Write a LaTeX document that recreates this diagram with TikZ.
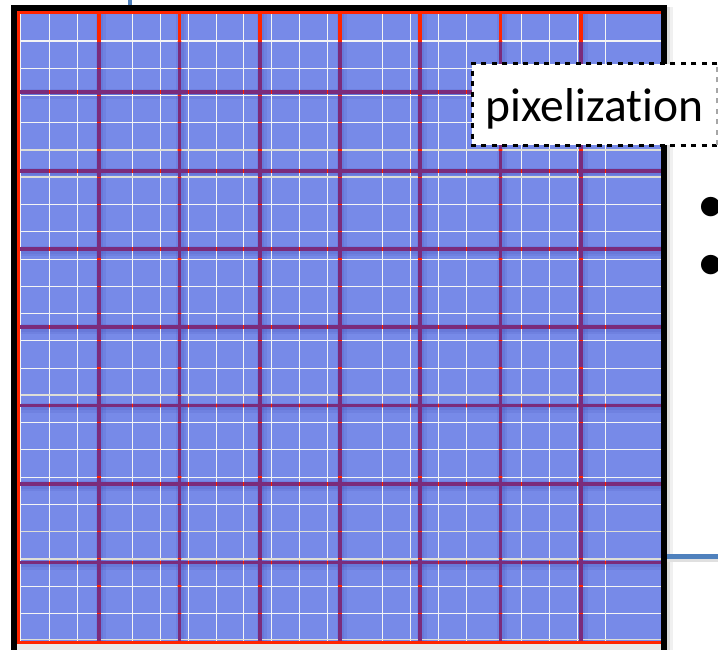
\documentclass[tikz,border=0pt]{standalone}
\usepackage{fontspec}
\setmainfont{Carlito}[Ligatures=NoCommon]
\definecolor{tileblue}{RGB}{119,138,232}
\definecolor{gpurple}{RGB}{123,43,123}
\definecolor{gred}{RGB}{255,36,0}
\definecolor{connblue}{RGB}{79,129,189}
\definecolor{minorwhite}{RGB}{244,244,244}
\definecolor{minorgray}{RGB}{222,222,214}
\definecolor{shadowblue}{RGB}{60,70,170}
\begin{document}
\begin{tikzpicture}[x=1pt,y=-1pt,
  minor/.style={minorwhite, line width=1.1pt},
  minorg/.style={minorgray, line width=1.8pt},
  major/.style={gpurple, line width=3.6pt},
  majshadow/.style={shadowblue, line width=10pt, opacity=0.12},
  majshadowb/.style={shadowblue, line width=6pt, opacity=0.12},
  connector/.style={connblue, line width=4.5pt},
  boxdash/.style={line width=3pt, dash pattern=on 5pt off 5.5pt},
  bulletmark/.style={font=\fontsize{55}{55}\selectfont, inner sep=0pt}
]
\clip (0,0) rectangle (718,650);
\fill[white] (0,0) rectangle (718,650);
% frame shadow
\fill[black!6] (13,7) rectangle (673,670);
\fill[black!14] (13,7) rectangle (670,670);
% frame interior
\fill[black!9] (14,8) rectangle (664,662);
% tile area
\fill[tileblue] (20,14) rectangle (661,641);
% shadows of the major lines
\begin{scope}
\clip (20,14) rectangle (661,641);
\foreach \x in {99,179.5,260,340,420,500.5,581} {
  \draw[majshadow] (\x+1.5,14) -- (\x+1.5,641);
  \draw[majshadowb] (\x+1,14) -- (\x+1,641);
}
\foreach \y in {92,171,249,327,405.5,484,562.5} {
  \draw[majshadow] (20,\y+2) -- (661,\y+2);
  \draw[majshadowb] (20,\y+1.5) -- (661,\y+1.5);
}
\end{scope}
% minor grid
\foreach \k in {1,2,4,5,6,7,8,9,10,11,13,14,15,16,18,19,20,21}
  \draw[minor] ({21.5+27.8*\k},14) -- ({21.5+27.8*\k},641);
\foreach \k in {1,2,3,4,7,8,9,10,11,12,13,15,16,17,18,21,22}
  \draw[minor] (20,{13.8+27.25*\k}) -- (661,{13.8+27.25*\k});
\foreach \k in {5,6,14,19,20}
  \draw[minorg] (20,{13.8+27.25*\k}) -- (661,{13.8+27.25*\k});
\draw[minorg] (20,639.5) -- (661,639.5);
\draw[minorwhite, line width=1pt] (20.8,14) -- (20.8,641);
% major grid
\foreach \x in {99,179.5,260,340,420,500.5,581}
  \draw[major] (\x,41) -- (\x,641);
\foreach \y in {92,171,249,327,405.5,484,562.5}
  \draw[major] (20,\y) -- (661,\y);
% red where the minor lines cross the major lines
\begin{scope}
\clip \foreach \x in {99,179.5,260,340,420,500.5,581} {(\x-1.8,41) rectangle (\x+1.8,641)}
      \foreach \y in {92,171,249,327,405.5,484,562.5} {(20,\y-1.8) rectangle (661,\y+1.8)};
\foreach \k in {1,2,4,5,6,7,8,9,10,11,13,14,15,16,18,19,20,21}
  \draw[gred, line width=1.1pt] ({21.5+27.8*\k},14) -- ({21.5+27.8*\k},641);
\foreach \k in {1,...,22}
  \draw[gred, line width=1.3pt] (20,{13.8+27.25*\k}) -- (661,{13.8+27.25*\k});
\end{scope}
\foreach \x in {99,179.5,260,340,420,500.5,581}
  \draw[gred, line width=3.6pt] (\x,12) -- (\x,41);
% red border
\draw[gred, line width=2.8pt] (18.5,12.5) rectangle (662,642.3);
% black frame
\draw[black, line width=6pt] (14,8) rectangle (664,664);
% connectors
\coordinate (tA) at (130,-3);
\coordinate (tB) at (130,5);
\draw[connector] (tA) -- (tB);
\coordinate (rA) at (667,556.5);
\coordinate (rB) at (722,556.5);
\draw[black!12, line width=3pt] (667,560.5) -- (722,560.5);
\draw[connector] (rA) -- (rB);
% text box
\node[fill=white, inner sep=0pt, minimum width=245pt, text height=57.7pt, text depth=23.3pt,
      anchor=north west, font=\fontsize{47.5}{50}\selectfont] (pix) at (472,64) {pixelization};
\draw[boxdash] (pix.north east) -- (pix.north west) -- (pix.south west) -- (pix.south east);
\draw[boxdash, black!35] (pix.south east) -- (pix.north east);
% bullets
\node[bulletmark] (b1) at (711,210) {•};
\node[bulletmark] (b2) at (711,268) {•};
\end{tikzpicture}
\end{document}
